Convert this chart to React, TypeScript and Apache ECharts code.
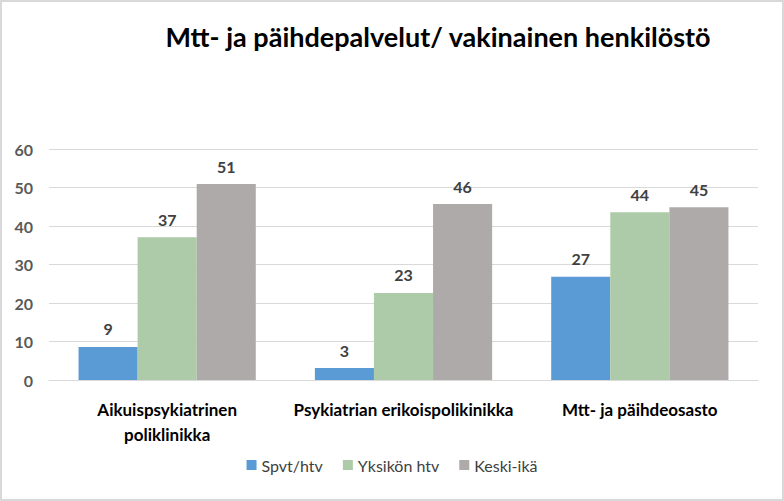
import React, { useEffect, useRef } from "react";
import * as echarts from "echarts";

const categories = ["Aikuispsykiatrinen\npoliklinikka", "Psykiatrian erikoispolikinikka", "Mtt- ja päihdeosasto"];
const seriesNames = ["Spvt/htv", "Yksikön htv", "Keski-ikä"];
const spvtHtv = [8.6, 3.1, 26.8];
const yksikonHtv = [37.1, 22.6, 43.6];
const keskiIka = [50.9, 45.7, 44.9];
const colors = ["#5B9BD5", "#ADCBA8", "#AEAAAA"];
const titleText = "Mtt- ja päihdepalvelut/ vakinainen henkilöstö";

const FONT = "Lato, 'Open Sans', sans-serif";

export default function App() {
  const ref = useRef<HTMLDivElement>(null);
  useEffect(() => {
    document.body.style.margin = "0";
    const chart = echarts.init(ref.current!, null, { renderer: "svg" });
    const seriesData = [spvtHtv, yksikonHtv, keskiIka];
    chart.setOption({
      animation: false,
      backgroundColor: "#FFFFFF",
      textStyle: { fontFamily: FONT },
      title: {
        text: titleText,
        left: 433,
        top: 18,
        textAlign: "center",
        textStyle: { fontFamily: FONT, fontSize: 27, fontWeight: "bold", color: "#000000" },
      },
      graphic: [
        {
          type: "rect",
          silent: true,
          shape: { x: 1, y: 1, width: 782, height: 499 },
          style: { fill: "none", stroke: "#D9D9D9", lineWidth: 2 },
        },
      ],
      legend: {
        bottom: 23,
        left: "center",
        icon: "rect",
        itemWidth: 10,
        itemHeight: 10,
        itemGap: 20,
        itemTextGap: 4,
        textStyle: { fontFamily: FONT, fontSize: 16, color: "#404040" },
        data: seriesNames,
      },
      grid: { left: 49, right: 26, top: 149, bottom: 121, containLabel: false },
      xAxis: {
        type: "category",
        data: categories,
        axisTick: { show: false },
        axisLine: { lineStyle: { color: "#D9D9D9", width: 1 } },
        axisLabel: {
          interval: 0,
          margin: 17,
          fontFamily: FONT,
          fontSize: 17,
          fontWeight: "bold",
          color: "#000000",
          lineHeight: 25,
        },
      },
      yAxis: {
        type: "value",
        min: 0,
        max: 60,
        interval: 10,
        axisLine: { show: false },
        axisTick: { show: false },
        splitLine: { lineStyle: { color: "#D9D9D9", width: 1 } },
        axisLabel: {
          margin: 16,
          fontFamily: FONT,
          fontSize: 16,
          fontWeight: "bold",
          color: "#595959",
        },
      },
      series: seriesNames.map((name, i) => ({
        name,
        type: "bar",
        data: seriesData[i],
        barGap: "0%",
        barCategoryGap: "25%",
        itemStyle: { color: colors[i] },
        label: {
          show: true,
          position: "top",
          distance: 10,
          fontFamily: FONT,
          fontSize: 16,
          fontWeight: "bold",
          color: "#404040",
          formatter: (p: any) => String(Math.round(p.value)),
        },
      })),
    });
    return () => chart.dispose();
  }, []);
  return <div ref={ref} style={{ width: 784, height: 501 }} />;
}
